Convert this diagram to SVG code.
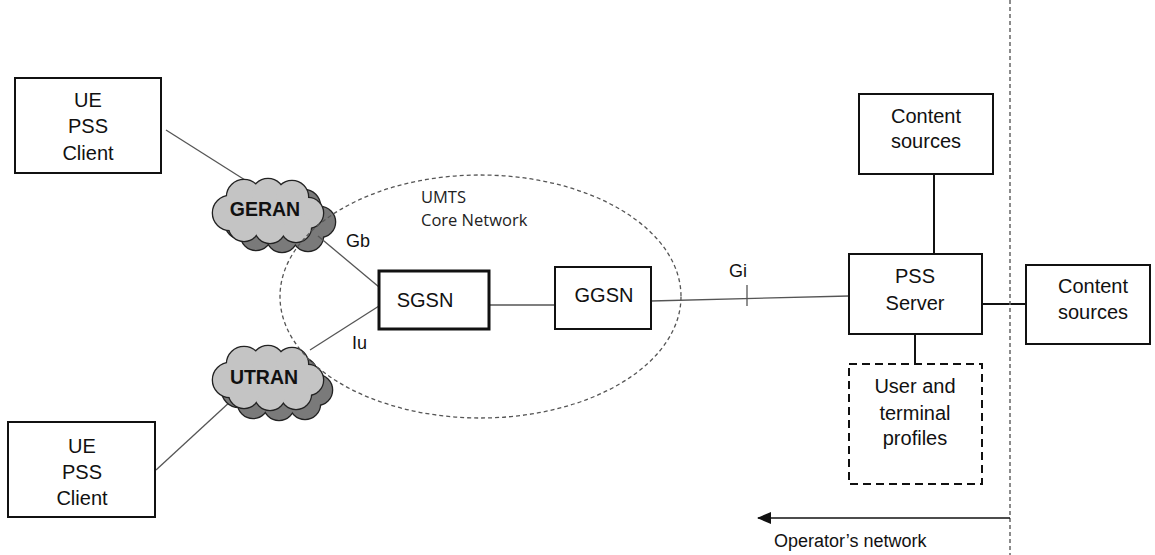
<svg xmlns="http://www.w3.org/2000/svg" xmlns:xlink="http://www.w3.org/1999/xlink" width="1155" height="555" viewBox="0 0 1155 555">
<style>
.box{fill:#fff;stroke:#111;stroke-width:2}
.t{font-family:"Liberation Sans",Arial,sans-serif;font-size:20px;fill:#111;text-anchor:middle}
.lbl{font-family:"Liberation Sans",Arial,sans-serif;font-size:18px;fill:#111}
.cl{font-family:"Liberation Sans",Arial,sans-serif;font-size:19.5px;font-weight:bold;fill:#111;text-anchor:middle}
.ln{stroke:#555;stroke-width:1.3;fill:none}
.lnk{stroke:#111;stroke-width:2;fill:none}
.core{font-family:"Open Sans",sans-serif;font-size:16.5px;fill:#222}
</style>
<defs>
<g id="cloud">
<ellipse cx="0" cy="0" rx="38" ry="20"/>
<circle cx="-38" cy="2" r="17"/>
<circle cx="-24" cy="-14" r="17"/>
<circle cx="0" cy="-16" r="16"/>
<circle cx="24" cy="-14" r="16"/>
<circle cx="40" cy="2" r="15"/>
<circle cx="28" cy="16" r="15"/>
<circle cx="2" cy="17" r="15"/>
<circle cx="-24" cy="15" r="15"/>
</g>
<marker id="arr" markerWidth="14" markerHeight="12" refX="13" refY="6" orient="auto" markerUnits="userSpaceOnUse">
<path d="M0,0 L14,6 L0,12 Z" fill="#111"/>
</marker>
</defs>

<g id="connectors">
<line class="ln" x1="166" y1="130" x2="245" y2="180"/>
<line class="ln" x1="156" y1="470" x2="232" y2="400"/>
</g>

<g id="geran">
<use xlink:href="#cloud" transform="translate(280,220)" fill="#7a7a7a" stroke="#222" stroke-width="2.6"/>
<use xlink:href="#cloud" transform="translate(280,220)" fill="#7a7a7a"/>
<use xlink:href="#cloud" transform="translate(268,211)" fill="#c4c4c4" stroke="#222" stroke-width="2.6"/>
<use xlink:href="#cloud" transform="translate(268,211)" fill="#c4c4c4"/>
<text class="cl" x="265" y="216">GERAN</text>
</g>
<g id="utran">
<use xlink:href="#cloud" transform="translate(277,388)" fill="#7a7a7a" stroke="#222" stroke-width="2.6"/>
<use xlink:href="#cloud" transform="translate(277,388)" fill="#7a7a7a"/>
<use xlink:href="#cloud" transform="translate(268,378)" fill="#c4c4c4" stroke="#222" stroke-width="2.6"/>
<use xlink:href="#cloud" transform="translate(268,378)" fill="#c4c4c4"/>
<text class="cl" x="264" y="384">UTRAN</text>
</g>

<g id="links">
<line class="ln" x1="318" y1="236" x2="379" y2="287"/>
<line class="ln" x1="310" y1="350" x2="379" y2="306"/>
<line class="ln" x1="489" y1="305" x2="555" y2="305"/>
<line class="ln" x1="651" y1="301" x2="849" y2="296"/>
<line class="ln" x1="747" y1="285" x2="747" y2="306"/>
<line class="lnk" x1="934" y1="174" x2="934" y2="254"/>
<line class="lnk" x1="982" y1="304" x2="1026" y2="304"/>
<line class="lnk" x1="915" y1="334" x2="915" y2="364"/>
<line x1="1010" y1="0" x2="1010" y2="555" stroke="#666" stroke-width="1.5" stroke-dasharray="4 3"/>
<line x1="1010" y1="518" x2="758" y2="518" stroke="#111" stroke-width="1.5" marker-end="url(#arr)"/>
</g>

<g id="core-network">
<ellipse cx="480.5" cy="296.5" rx="200.5" ry="121.5" fill="none" stroke="#555" stroke-width="1.3" stroke-dasharray="4 3"/>
<text class="core" x="421" y="203">UMTS</text>
<text class="core" x="421" y="226">Core Network</text>
</g>

<g id="ue-top">
<rect class="box" x="15" y="78" width="146" height="95"/>
<text class="t" x="88" y="107">UE</text>
<text class="t" x="88" y="133">PSS</text>
<text class="t" x="88" y="160">Client</text>
</g>
<g id="ue-bottom">
<rect class="box" x="8" y="422" width="147" height="95"/>
<text class="t" x="82" y="453">UE</text>
<text class="t" x="82" y="479">PSS</text>
<text class="t" x="82" y="505">Client</text>
</g>
<g id="sgsn">
<rect x="379" y="271" width="110" height="58" fill="#fff" stroke="#111" stroke-width="3"/>
<text class="t" x="425" y="307">SGSN</text>
</g>
<g id="ggsn">
<rect class="box" x="555" y="267" width="96" height="62"/>
<text class="t" x="604" y="302">GGSN</text>
</g>
<g id="content-top">
<rect class="box" x="859" y="94" width="134" height="80"/>
<text class="t" x="926" y="123">Content</text>
<text class="t" x="926" y="148">sources</text>
</g>
<g id="pss-server">
<rect class="box" x="849" y="254" width="133" height="80"/>
<text class="t" x="915" y="283">PSS</text>
<text class="t" x="915" y="310">Server</text>
</g>
<g id="content-right">
<rect class="box" x="1026" y="265" width="124" height="79"/>
<text class="t" x="1093" y="293">Content</text>
<text class="t" x="1093" y="319">sources</text>
</g>
<g id="profiles">
<rect x="849" y="364" width="133" height="120" fill="#fff" stroke="#111" stroke-width="2" stroke-dasharray="8 5"/>
<text class="t" x="915" y="393">User and</text>
<text class="t" x="915" y="420">terminal</text>
<text class="t" x="915" y="445">profiles</text>
</g>

<g id="labels">
<text class="lbl" x="346" y="247">Gb</text>
<text class="lbl" x="352" y="349">Iu</text>
<text class="lbl" x="729" y="277">Gi</text>
<text class="lbl" x="774" y="547" font-size="18.5">Operator’s network</text>
</g>
</svg>
